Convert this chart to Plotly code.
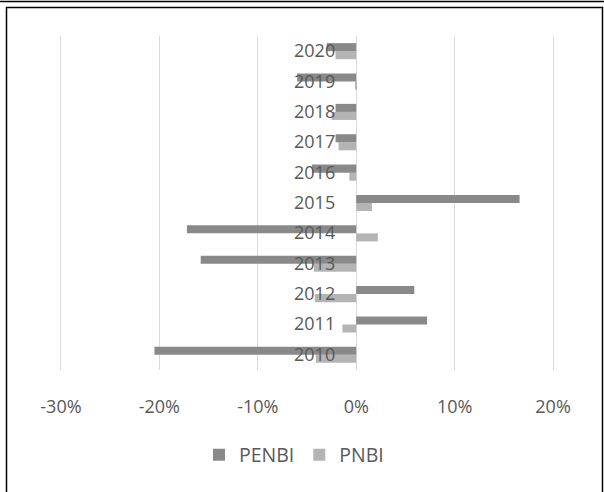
import plotly.graph_objects as go

years = ["2010", "2011", "2012", "2013", "2014", "2015", "2016", "2017", "2018", "2019", "2020"]
penbi = [-20.5, 7.2, 5.9, -15.8, -17.2, 16.6, -4.5, -2.1, -2.1, -6.0, -3.0]
pnbi = [-4.1, -1.4, -4.2, -4.3, 2.2, 1.6, -0.7, -1.8, -2.5, -0.1, -2.1]
x_ticks = [-0.3, -0.2, -0.1, 0.0, 0.1, 0.2]
x_tick_labels = ["-30%", "-20%", "-10%", "0%", "10%", "20%"]

TEXT = "#595959"
FONT = "Open Sans"

# plot area pixel bounds (padded so the edge gridlines are inside)
L, R, T, B = 58, 556, 36, 370
W, H = 604, 492
pw, ph = R - L, B - T
eps = 0.003  # 3px of padding on each side in data units (0.5 over 492 px)


def px(xp):
    return (xp - L) / pw


def py(yp):
    return (B - yp) / ph


fig = go.Figure()
fig.add_trace(go.Bar(y=years, x=[v / 100 for v in pnbi], name="PNBI", orientation="h",
                     marker=dict(color="#b4b4b4", line=dict(width=0))))
fig.add_trace(go.Bar(y=years, x=[v / 100 for v in penbi], name="PENBI", orientation="h",
                     marker=dict(color="#898989", line=dict(width=0))))

for i, yr in enumerate(years):
    fig.add_annotation(x=0, y=i, xref="x", yref="y", text=yr, showarrow=False,
                       xanchor="right", yanchor="middle", xshift=-19, yshift=1,
                       font=dict(family=FONT, size=18, color=TEXT))

fig.add_shape(type="line", xref="paper", yref="paper", x0=px(0), x1=px(W), y0=py(1.5), y1=py(1.5),
              line=dict(color="#000000", width=1.5))
fig.add_shape(type="rect", xref="paper", yref="paper", x0=px(6.5), x1=px(602.5), y0=py(7.5), y1=py(500),
              line=dict(color="#000000", width=1.5))

fig.update_layout(
    width=W, height=H,
    margin=dict(l=L, r=W - R, t=T, b=H - B),
    paper_bgcolor="white", plot_bgcolor="white",
    barmode="group", bargap=0.47, bargroupgap=0,
    font=dict(family=FONT, color=TEXT, size=18),
    showlegend=True,
    legend=dict(orientation="h", traceorder="reversed", x=px(294), xanchor="center",
                y=py(455), yanchor="middle", font=dict(family=FONT, size=19.5, color=TEXT),
                bgcolor="rgba(0,0,0,0)"),
    xaxis=dict(range=[-0.3 - eps, 0.2 + eps], tickvals=x_ticks, ticktext=x_tick_labels,
               showgrid=True, gridcolor="#d9d9d9", gridwidth=1, zeroline=False, showline=False,
               ticks="", ticklabelstandoff=24, tickfont=dict(family=FONT, size=18, color=TEXT),
               fixedrange=True),
    yaxis=dict(type="category", categoryorder="array", categoryarray=years,
               range=[-0.5, 10.5], showticklabels=False, showgrid=False, zeroline=False,
               showline=False, ticks="", fixedrange=True),
)

fig.write_html("out.html", config={"displayModeBar": False},
               post_script="document.body.style.margin='0';document.body.style.overflow='hidden';")
